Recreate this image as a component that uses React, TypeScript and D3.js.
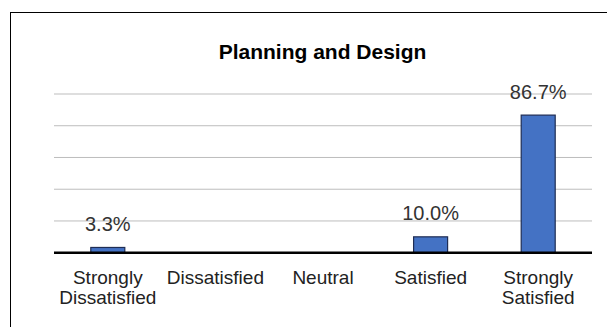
import React from "react";
import * as d3 from "d3";

const categories = ["Strongly Dissatisfied", "Dissatisfied", "Neutral", "Satisfied", "Strongly Satisfied"];
const labelLines = [["Strongly", "Dissatisfied"], ["Dissatisfied"], ["Neutral"], ["Satisfied"], ["Strongly", "Satisfied"]];
const values = [3.3, 0, 0, 10.0, 86.7];
const gridTicks = [20, 40, 60, 80, 100];
const title = "Planning and Design";

export default function App() {
  const W = 607, H = 327;
  const x = d3.scaleBand<string>().domain(categories).range([54, 592]).padding(0);
  const y = d3.scaleLinear().domain([0, 100]).range([252.7, 94]);
  const bw = x.bandwidth() * 0.316;
  const font = "'Liberation Sans', Arial, sans-serif";
  return (
    <svg width={W} height={H} style={{ position: "absolute", left: 0, top: 0, background: "#fff" }}>
      <rect x={0} y={0} width={W} height={H} fill="#fff" />
      <rect x={10.5} y={12.5} width={700} height={400} fill="#fff" stroke="#000" strokeWidth={1} />
      <text x={322.5} y={59} textAnchor="middle" fontFamily={font} fontWeight="bold" fontSize={21} fill="#000">{title}</text>
      {gridTicks.map((t) => (
        <line key={t} x1={54} x2={592} y1={y(t)} y2={y(t)} stroke="#bdbdbd" strokeWidth={1} />
      ))}
      {categories.map((c, i) => {
        const v = values[i];
        const cx = (x(c) as number) + x.bandwidth() / 2;
        return (
          <g key={c}>
            {v > 0 && (
              <>
                <rect x={cx - bw / 2} y={y(v)} width={bw} height={y(0) - y(v)} fill="#4472C4" stroke="#1f2d54" strokeWidth={1.2} />
                <text x={cx} y={y(v) - 16.5} textAnchor="middle" fontFamily={font} fontSize={20} fill="#333">{v.toFixed(1)}%</text>
              </>
            )}
            {labelLines[i].map((l, j) => (
              <text key={j} x={cx} y={283.5 + j * 20} textAnchor="middle" fontFamily={font} fontSize={19} fill="#222">{l}</text>
            ))}
          </g>
        );
      })}
      <line x1={54} x2={592} y1={y(0)} y2={y(0)} stroke="#000" strokeWidth={2.5} />
    </svg>
  );
}
